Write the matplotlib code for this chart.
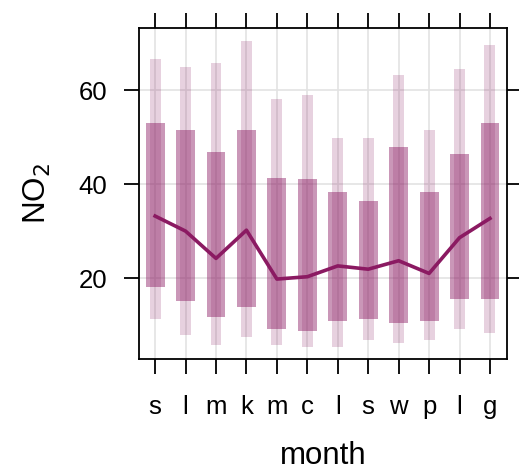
import numpy as np
import matplotlib.pyplot as plt

plt.rcParams['font.family'] = ['Liberation Sans', 'DejaVu Sans']

# miesiące (pierwsze litery) i statystyki NO2
miesiace = ['s', 'l', 'm', 'k', 'm', 'c', 'l', 's', 'w', 'p', 'l', 'g']
p05 = [11.3, 7.8, 5.7, 7.4, 5.7, 5.3, 5.3, 6.9, 6.1, 6.9, 9.1, 8.3]
p25 = [18.1, 15.1, 11.7, 13.8, 9.1, 8.7, 10.8, 11.3, 10.4, 10.8, 15.5, 15.5]
mediana = [33.2, 30.0, 24.2, 30.2, 19.8, 20.3, 22.6, 21.9, 23.7, 21.0, 28.6, 32.7]
p75 = [52.9, 51.6, 46.9, 51.6, 41.4, 41.0, 38.4, 36.3, 47.8, 38.4, 46.5, 52.9]
p95 = [66.5, 64.8, 65.7, 70.4, 58.0, 58.9, 49.9, 49.9, 63.1, 51.6, 64.4, 69.5]

x = np.arange(1, 13)
kolor = '#8b1a62'

fig = plt.figure(figsize=(5.19, 4.72), dpi=100)
ax = fig.add_axes([0.2678, 0.2394, 0.7091, 0.7013])

# siatka
for xi in x:
    ax.axvline(xi, color='#e3e3e3', lw=1.2, zorder=0)
for yi in [20, 40, 60]:
    ax.axhline(yi, color='#e3e3e3', lw=1.2, zorder=0)

# 5-95 percentyl (jasne) i 25-75 (ciemniejsze)
ax.bar(x, np.array(p95) - np.array(p05), bottom=p05, width=0.36,
       color=kolor, alpha=0.2, lw=0, zorder=1)
ax.bar(x, np.array(p75) - np.array(p25), bottom=p25, width=0.62,
       color=kolor, alpha=0.45, lw=0, zorder=2)
ax.plot(x, mediana, color=kolor, lw=2.6, zorder=3)

ax.set_xlim(0.47, 12.56)
ax.set_ylim(2.8, 73.2)
ax.set_xticks(x)
ax.set_xticklabels(miesiace)
ax.set_yticks([20, 40, 60])

ax.tick_params(direction='out', length=11, width=1.3, labelsize=18.5,
               top=True, right=True)
ax.tick_params(axis='x', pad=15)
ax.tick_params(axis='y', pad=12)
for s in ax.spines.values():
    s.set_linewidth(1.3)

ax.set_xlabel('month', fontsize=22.5, labelpad=16)
ax.set_ylabel('NO$_2$', fontsize=22.5, labelpad=18)

fig.savefig('out.png', dpi=100)
